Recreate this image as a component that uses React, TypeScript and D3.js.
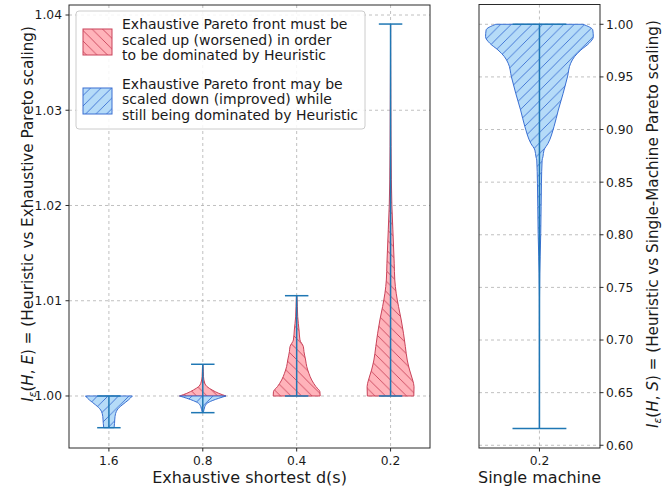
import React from "react";
import * as d3 from "d3";

// ---------- data ----------
const leftCategories = ["1.6", "0.8", "0.4", "0.2"];
const leftPositions = [1, 2, 3, 4];
const leftMin = [0.99667, 0.99825, 1.0, 1.0];
const leftMax = [1.0, 1.00333, 1.01053, 1.03905];
const leftTicks = [1.0, 1.01, 1.02, 1.03, 1.04];

// violin body profiles: values and relative half-widths (1 = full half width)
const v16BlueVals = [1.0, 0.99958, 0.99905, 0.99853, 0.99783, 0.99713, 0.99667];
const v16BlueW = [1.0, 0.83, 0.56, 0.35, 0.26, 0.24, 0.22];

const v08RedVals = [1.0, 1.00028, 1.00063, 1.00098, 1.00133, 1.00203, 1.00308, 1.00333];
const v08RedW = [0.99, 0.68, 0.4, 0.18, 0.085, 0.03, 0.013, 0.0];
const v08BlueVals = [1.0, 0.99976, 0.99951, 0.99923, 0.99888, 0.99835, 0.99825];
const v08BlueW = [0.99, 0.68, 0.4, 0.18, 0.085, 0.03, 0.01];

const v04RedVals = [1.0, 1.00045, 1.00098, 1.00168, 1.00238, 1.00308, 1.00378, 1.00465, 1.00518, 1.00588, 1.00693, 1.00833, 1.01043, 1.01053];
const v04RedW = [1.0, 0.99, 0.82, 0.64, 0.52, 0.43, 0.38, 0.31, 0.285, 0.14, 0.1, 0.043, 0.013, 0.0];

const v02RedVals = [1.0, 1.00098, 1.00168, 1.00273, 1.00378, 1.00518, 1.00659, 1.00798, 1.00938, 1.01079, 1.01218, 1.01394, 1.01744, 1.02006, 1.02269, 1.0262, 1.0311, 1.0353, 1.03905];
const v02RedW = [0.99, 1.0, 0.94, 0.81, 0.71, 0.63, 0.55, 0.455, 0.34, 0.24, 0.18, 0.155, 0.098, 0.055, 0.034, 0.021, 0.011, 0.004, 0.0];

const rightCategories = ["0.2"];
const rightMin = [0.616];
const rightMax = [1.0];
const rightTicks = [0.6, 0.65, 0.7, 0.75, 0.8, 0.85, 0.9, 0.95, 1.0];
const vSingleVals = [1.0, 0.9946, 0.9882, 0.9819, 0.9756, 0.9692, 0.963, 0.95, 0.9344, 0.9185, 0.9027, 0.8869, 0.8805, 0.8741, 0.871, 0.849, 0.827, 0.8013, 0.779, 0.763, 0.74, 0.616];
const vSingleW = [0.81, 0.99, 1.0, 0.92, 0.77, 0.65, 0.58, 0.52, 0.44, 0.35, 0.27, 0.16, 0.085, 0.065, 0.05, 0.037, 0.031, 0.024, 0.013, 0.006, 0.002, 0.0];

const legendRed = ["Exhaustive Pareto front must be", "scaled up (worsened) in order", "to be dominated by Heuristic"];
const legendBlue = ["Exhaustive Pareto front may be", "scaled down (improved) while", "still being dominated by Heuristic"];

// ---------- style ----------
const FONT = "DejaVu Sans, sans-serif";
const RED_FILL = "#ffb3ba";
const RED_EDGE = "#c9435a";
const BLUE_FILL = "#b5dbf8";
const BLUE_EDGE = "#3a6fd2";
const LINE = "#1f77b4";
const GRID = "#b0b0b0";
const SPINE = "#2a2a2a";
const TXT = "#1a1a1a";
const TICK_FS = 12.3;
const LABEL_FS = 16;
const YLABEL_FS = 15.2;
const LEG_FS = 14;

const L = { x0: 69, x1: 430, y0: 5, y1: 448 };
const R = { x0: 479, x1: 600, y0: 4.5, y1: 448 };

function Violin({ vals, ws, cx, hw, y, kind }: any) {
  const pts = vals.map((v: number, i: number) => ({ v, w: ws[i] }));
  const area = d3
    .area<any>()
    .y((d) => y(d.v))
    .x0((d) => cx - d.w * hw)
    .x1((d) => cx + d.w * hw)
    .curve(d3.curveMonotoneY);
  const d = area(pts) || "";
  const fill = kind === "red" ? RED_FILL : BLUE_FILL;
  const edge = kind === "red" ? RED_EDGE : BLUE_EDGE;
  return (
    <g>
      <path d={d} fill={fill} stroke="none" />
      <path d={d} fill={kind === "red" ? "url(#hatchRed)" : "url(#hatchBlue)"} stroke="none" />
      <path d={d} fill="none" stroke={edge} strokeWidth={1} />
    </g>
  );
}

export default function App() {
  const xL = d3.scaleLinear().domain([0.575, 4.42]).range([L.x0, L.x1]);
  const yL = d3.scaleLinear().domain([0.99454, 1.04105]).range([L.y1, L.y0]);
  const xR = d3.scaleLinear().domain([0.7195, 1.281]).range([R.x0, R.x1]);
  const yR = d3.scaleLinear().domain([0.5974, 1.0188]).range([R.y1, R.y0]);

  const hwL = xL(1.25) - xL(1);
  const capL = xL(1.125) - xL(1);
  const hwR = xR(1.25) - xR(1);
  const capR = xR(1.125) - xR(1);

  const leftBodies = [
    { pos: 1, vals: v16BlueVals, ws: v16BlueW, kind: "blue" },
    { pos: 2, vals: v08RedVals, ws: v08RedW, kind: "red" },
    { pos: 2, vals: v08BlueVals, ws: v08BlueW, kind: "blue" },
    { pos: 3, vals: v04RedVals, ws: v04RedW, kind: "red" },
    { pos: 4, vals: v02RedVals, ws: v02RedW, kind: "red" },
  ];

  const lp = 10.5;
  const sub = YLABEL_FS * 0.7;
  return (
    <svg width={667} height={491} style={{ display: "block", position: "absolute", left: 0, top: 0 }} fontFamily={FONT}>
      <defs>
        <pattern id="hatchRed" patternUnits="userSpaceOnUse" width={lp} height={lp}>
          <path d={`M0,0 L${lp},${lp} M${-lp / 2},${lp / 2} L${lp / 2},${lp * 1.5} M${lp / 2},${-lp / 2} L${lp * 1.5},${lp / 2}`} stroke={RED_EDGE} strokeWidth={0.9} />
        </pattern>
        <pattern id="hatchBlue" patternUnits="userSpaceOnUse" width={lp} height={lp}>
          <path d={`M0,${lp} L${lp},0 M${-lp / 2},${lp / 2} L${lp / 2},${-lp / 2} M${lp / 2},${lp * 1.5} L${lp * 1.5},${lp / 2}`} stroke={BLUE_EDGE} strokeWidth={0.9} />
        </pattern>
        <clipPath id="clipL">
          <rect x={L.x0} y={L.y0} width={L.x1 - L.x0} height={L.y1 - L.y0} />
        </clipPath>
        <clipPath id="clipR">
          <rect x={R.x0} y={R.y0} width={R.x1 - R.x0} height={R.y1 - R.y0} />
        </clipPath>
      </defs>
      <rect x={0} y={0} width={667} height={491} fill="#fff" />

      {/* ---------- left axes ---------- */}
      <g clipPath="url(#clipL)">
        {leftTicks.map((t) => (
          <line key={"gy" + t} x1={L.x0} x2={L.x1} y1={yL(t)} y2={yL(t)} stroke={GRID} strokeDasharray="3,3" strokeWidth={0.8} />
        ))}
        {leftPositions.map((p) => (
          <line key={"gx" + p} x1={xL(p)} x2={xL(p)} y1={L.y0} y2={L.y1} stroke={GRID} strokeDasharray="3,3" strokeWidth={0.8} />
        ))}
        {leftBodies.map((b, i) => (
          <Violin key={i} vals={b.vals} ws={b.ws} cx={xL(b.pos)} hw={hwL} y={yL} kind={b.kind} />
        ))}
        {leftPositions.map((p, i) => (
          <g key={"ln" + p}>
            <line x1={xL(p)} x2={xL(p)} y1={yL(leftMin[i])} y2={yL(leftMax[i])} stroke={LINE} strokeWidth={1.5} />
            <line x1={xL(p) - capL} x2={xL(p) + capL} y1={yL(leftMin[i])} y2={yL(leftMin[i])} stroke={LINE} strokeWidth={1.5} />
            <line x1={xL(p) - capL} x2={xL(p) + capL} y1={yL(leftMax[i])} y2={yL(leftMax[i])} stroke={LINE} strokeWidth={1.5} />
          </g>
        ))}
      </g>
      <rect x={L.x0} y={L.y0} width={L.x1 - L.x0} height={L.y1 - L.y0} fill="none" stroke={SPINE} strokeWidth={1} />
      {leftTicks.map((t) => (
        <g key={"ty" + t}>
          <line x1={L.x0 - 3.5} x2={L.x0} y1={yL(t)} y2={yL(t)} stroke={SPINE} />
          <text x={L.x0 - 7} y={yL(t)} dy="0.36em" textAnchor="end" fontSize={TICK_FS} fill={TXT}>
            {t.toFixed(2)}
          </text>
        </g>
      ))}
      {leftPositions.map((p, i) => (
        <g key={"tx" + p}>
          <line x1={xL(p)} x2={xL(p)} y1={L.y1} y2={L.y1 + 3.5} stroke={SPINE} />
          <text x={xL(p)} y={L.y1 + 16.5} textAnchor="middle" fontSize={TICK_FS} fill={TXT}>
            {leftCategories[i]}
          </text>
        </g>
      ))}
      <text x={(L.x0 + L.x1) / 2} y={483} textAnchor="middle" fontSize={LABEL_FS} fill={TXT}>
        Exhaustive shortest d(s)
      </text>
      <text transform={`translate(32.5,214) rotate(-90)`} textAnchor="middle" fontSize={YLABEL_FS} fill={TXT}>
        <tspan fontStyle="italic">I</tspan>
        <tspan fontStyle="italic" fontSize={sub} dy={3.5}>ε</tspan>
        <tspan dy={-3.5}>(</tspan>
        <tspan fontStyle="italic">H</tspan>
        <tspan>, </tspan>
        <tspan fontStyle="italic">E</tspan>
        <tspan>) = (Heuristic vs Exhaustive Pareto scaling)</tspan>
      </text>

      {/* legend */}
      <g>
        <rect x={76} y={11} width={289} height={118} rx={3} fill="#fff" fillOpacity={0.85} stroke="#ccc" strokeWidth={1} />
        <rect x={83} y={29} width={29} height={26} fill={RED_FILL} />
        <rect x={83} y={29} width={29} height={26} fill="url(#hatchRed)" />
        <rect x={83} y={29} width={29} height={26} fill="none" stroke={RED_EDGE} />
        <rect x={83} y={88} width={29} height={26} fill={BLUE_FILL} />
        <rect x={83} y={88} width={29} height={26} fill="url(#hatchBlue)" />
        <rect x={83} y={88} width={29} height={26} fill="none" stroke={BLUE_EDGE} />
        {legendRed.map((s, i) => (
          <text key={"lr" + i} x={122} y={24 + i * 15.7} dy="0.36em" fontSize={LEG_FS} fill={TXT}>
            {s}
          </text>
        ))}
        {legendBlue.map((s, i) => (
          <text key={"lb" + i} x={122} y={83.5 + i * 15.7} dy="0.36em" fontSize={LEG_FS} fill={TXT}>
            {s}
          </text>
        ))}
      </g>

      {/* ---------- right axes ---------- */}
      <g clipPath="url(#clipR)">
        {rightTicks.map((t) => (
          <line key={"rgy" + t} x1={R.x0} x2={R.x1} y1={yR(t)} y2={yR(t)} stroke={GRID} strokeDasharray="3,3" strokeWidth={0.8} />
        ))}
        <line x1={xR(1)} x2={xR(1)} y1={R.y0} y2={R.y1} stroke={GRID} strokeDasharray="3,3" strokeWidth={0.8} />
        <Violin vals={vSingleVals} ws={vSingleW} cx={xR(1)} hw={hwR} y={yR} kind="blue" />
        <line x1={xR(1)} x2={xR(1)} y1={yR(rightMin[0])} y2={yR(rightMax[0])} stroke={LINE} strokeWidth={1.5} />
        <line x1={xR(1) - capR} x2={xR(1) + capR} y1={yR(rightMin[0])} y2={yR(rightMin[0])} stroke={LINE} strokeWidth={1.5} />
        <line x1={xR(1) - capR} x2={xR(1) + capR} y1={yR(rightMax[0])} y2={yR(rightMax[0])} stroke={LINE} strokeWidth={1.5} />
      </g>
      <rect x={R.x0} y={R.y0} width={R.x1 - R.x0} height={R.y1 - R.y0} fill="none" stroke={SPINE} strokeWidth={1} />
      {rightTicks.map((t) => (
        <g key={"rty" + t}>
          <line x1={R.x1} x2={R.x1 + 3.5} y1={yR(t)} y2={yR(t)} stroke={SPINE} />
          <text x={R.x1 + 6} y={yR(t)} dy="0.36em" textAnchor="start" fontSize={TICK_FS} fill={TXT}>
            {t.toFixed(2)}
          </text>
        </g>
      ))}
      <line x1={xR(1)} x2={xR(1)} y1={R.y1} y2={R.y1 + 3.5} stroke={SPINE} />
      <text x={xR(1)} y={R.y1 + 16.5} textAnchor="middle" fontSize={TICK_FS} fill={TXT}>
        {rightCategories[0]}
      </text>
      <text x={(R.x0 + R.x1) / 2} y={483} textAnchor="middle" fontSize={LABEL_FS} fill={TXT}>
        Single machine
      </text>
      <text transform={`translate(657.5,224) rotate(-90)`} textAnchor="middle" fontSize={YLABEL_FS} fill={TXT}>
        <tspan fontStyle="italic">I</tspan>
        <tspan fontStyle="italic" fontSize={sub} dy={3.5}>ε</tspan>
        <tspan dy={-3.5}>(</tspan>
        <tspan fontStyle="italic">H</tspan>
        <tspan>, </tspan>
        <tspan fontStyle="italic">S</tspan>
        <tspan>) = (Heuristic vs Single-Machine Pareto scaling)</tspan>
      </text>
    </svg>
  );
}
